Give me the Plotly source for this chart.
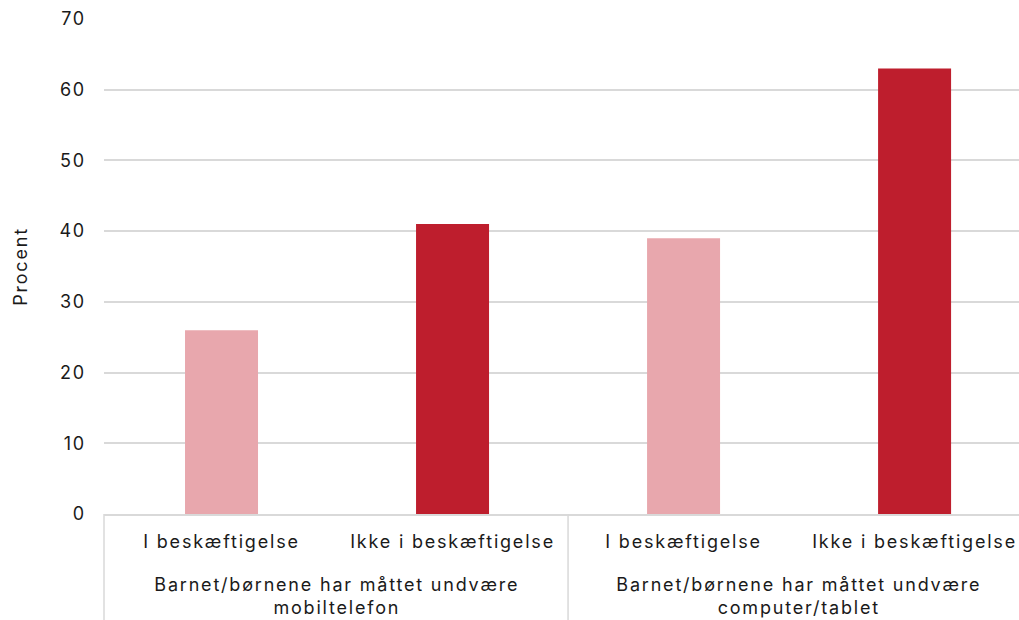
import plotly.graph_objects as go

# Data
groups = ["Barnet/børnene har måttet undvære<br>mobiltelefon",
          "Barnet/børnene har måttet undvære<br>computer/tablet"]
subcats = ["I beskæftigelse", "Ikke i beskæftigelse",
           "I beskæftigelse", "Ikke i beskæftigelse"]
values = [26, 41, 39, 63]
bar_colors = ["#E8A7AD", "#BE1E2D", "#E8A7AD", "#BE1E2D"]
y_ticks = [0, 10, 20, 30, 40, 50, 60, 70]

FONT = "Inter, Roboto, sans-serif"
xpos = list(range(len(subcats)))
xmin, xmax = -0.5087, 3.452

fig = go.Figure(go.Bar(
    x=xpos, y=values, marker=dict(color=bar_colors, line=dict(width=0)),
    width=0.316, showlegend=False, hoverinfo="y"))

fig.update_layout(
    width=1019, height=620,
    margin=dict(l=104, r=0, t=19, b=106),
    paper_bgcolor="white", plot_bgcolor="white",
    font=dict(family=FONT, size=18, color="#1a1a1a"),
    xaxis=dict(range=[xmin, xmax], tickvals=xpos, ticktext=subcats,
               showgrid=False, zeroline=False, showline=True,
               linecolor="#d9d9d9", linewidth=1.5, ticks="",
               ticklabelstandoff=11, tickfont=dict(size=18)),
    yaxis=dict(range=[0, 70], tickvals=y_ticks, showgrid=True,
               gridcolor="#d9d9d9", gridwidth=1.5, zeroline=False,
               showline=False, ticks="", ticklabelstandoff=17,
               tickfont=dict(size=18),
               title=dict(text="Procent", font=dict(size=18), standoff=30)),
)

# group labels
for i, g in enumerate(groups):
    fig.add_annotation(x=2 * i + 0.5, xref="x", y=0, yref="paper",
                       yanchor="top", yshift=-58, text=g, showarrow=False,
                       font=dict(size=18), align="center")

# separators (left plot edge and boundary between the two groups)
for b in [xmin, 1.5]:
    px = (b - xmin) / (xmax - xmin)
    fig.add_shape(type="line", xref="paper", yref="paper",
                  x0=px, x1=px, y0=0, y1=-106 / 495,
                  line=dict(color="#d9d9d9", width=1.5))

css = ("var s=document.createElement('style');"
       "s.textContent='body{margin:0;overflow:hidden} .main-svg text{letter-spacing:1.8px}';"
       "document.head.appendChild(s);")
fig.write_html("out.html", post_script=css, config={"displayModeBar": False})
